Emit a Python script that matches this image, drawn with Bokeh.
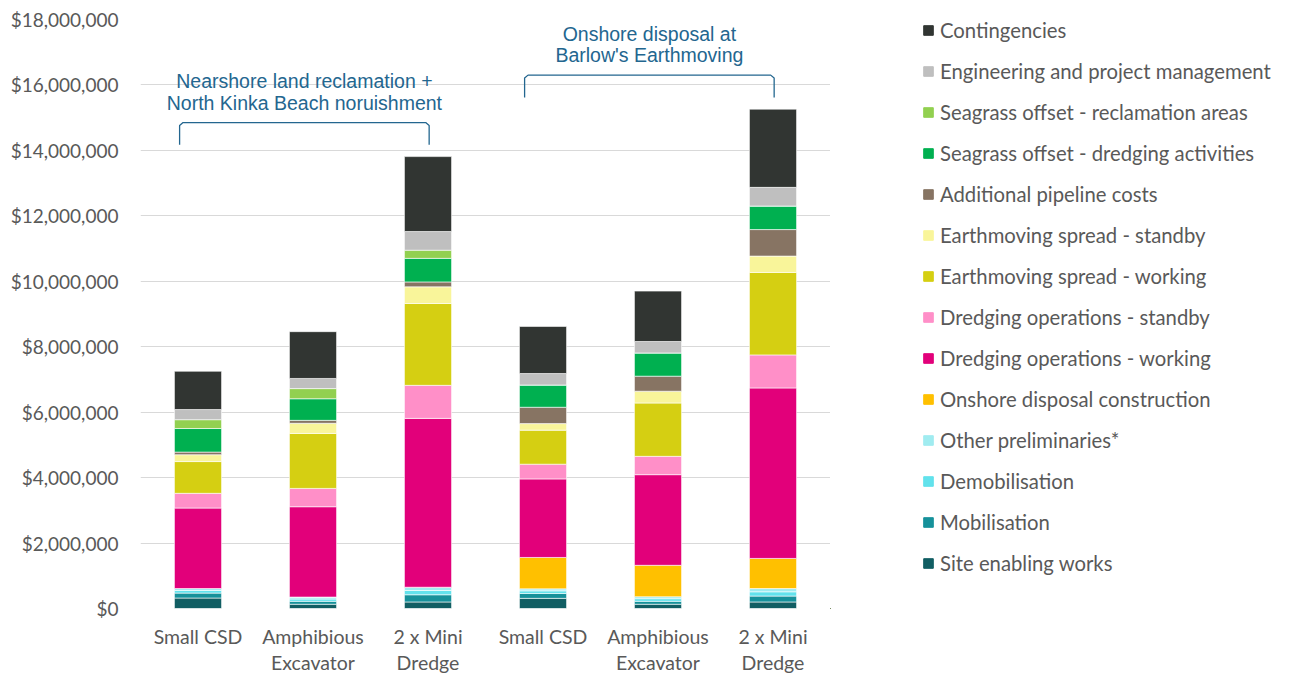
from bokeh.plotting import figure
from bokeh.layouts import row
from bokeh.models import (Range1d, FixedTicker, SingleIntervalTicker, NumeralTickFormatter,
                          Legend, LegendItem, ColumnDataSource)
from bokeh.core.properties import value
from bokeh.embed import file_html
from bokeh.resources import INLINE

# ---------------- data ----------------
categories = ["Small CSD", "Amphibious\nExcavator", "2 x Mini\nDredge",
              "Small CSD", "Amphibious\nExcavator", "2 x Mini\nDredge"]

# series, bottom to top of the stack (values in $)
site_enabling_works = [320000, 130000, 200000, 310000, 130000, 200000]
mobilisation        = [150000, 90000, 220000, 150000, 90000, 180000]
demobilisation      = [80000, 70000, 130000, 80000, 80000, 130000]
other_preliminaries = [60000, 60000, 100000, 60000, 60000, 100000]
onshore_disposal    = [0, 0, 0, 960000, 960000, 920000]
dredging_working    = [2460000, 2760000, 5160000, 2400000, 2770000, 5210000]
dredging_standby    = [450000, 560000, 1010000, 450000, 560000, 1010000]
earthmoving_working = [970000, 1680000, 2500000, 1040000, 1630000, 2520000]
earthmoving_standby = [210000, 310000, 510000, 200000, 360000, 500000]
pipeline_costs      = [80000, 90000, 150000, 500000, 460000, 810000]
seagrass_dredging   = [720000, 660000, 720000, 680000, 710000, 720000]
seagrass_reclaim    = [270000, 310000, 250000, 0, 0, 0]
engineering_pm      = [310000, 310000, 570000, 350000, 350000, 570000]
contingencies       = [1170000, 1430000, 2290000, 1440000, 1540000, 2390000]

series_labels = ["Site enabling works", "Mobilisation", "Demobilisation", "Other preliminaries*",
                 "Onshore disposal construction", "Dredging operations - working",
                 "Dredging operations - standby", "Earthmoving spread - working",
                 "Earthmoving spread - standby", "Additional pipeline costs",
                 "Seagrass offset - dredging activities", "Seagrass offset - reclamation areas",
                 "Engineering and project management", "Contingencies"]
series_values = [site_enabling_works, mobilisation, demobilisation, other_preliminaries,
                 onshore_disposal, dredging_working, dredging_standby, earthmoving_working,
                 earthmoving_standby, pipeline_costs, seagrass_dredging, seagrass_reclaim,
                 engineering_pm, contingencies]
series_colors = ["#115e63", "#16919a", "#62e2ec", "#a0ecf0", "#ffc000", "#e2007a",
                 "#ff8fc8", "#d5cf12", "#f9f59a", "#877463", "#00b050", "#92d050",
                 "#bfbfbf", "#313532"]

group_titles = [["Nearshore land reclamation +", "North Kinka Beach noruishment"],
                ["Onshore disposal at", "Barlow's Earthmoving"]]
group_members = [[0, 1, 2], [3, 4, 5]]

y_max = 18000000
y_step = 2000000

# ---------------- figure ----------------
FONT = "Lato"
GRAY = "#595959"
BLUE = "#23668f"

xs = [i + 1 for i in range(len(categories))]
keys = ["s%d" % i for i in range(len(series_values))]
data = dict(x=xs)
for k, v in zip(keys, series_values):
    data[k] = v
source = ColumnDataSource(data)

p = figure(width=830, height=677, output_backend="svg", toolbar_location=None,
           x_range=Range1d(0.5, len(categories) + 0.5), y_range=Range1d(0, y_max),
           min_border_left=140, min_border_right=0, min_border_top=19, min_border_bottom=67,
           outline_line_color=None, background_fill_color="white", border_fill_color="white")

renderers = p.vbar_stack(keys, x="x", width=0.41, color=series_colors, source=source,
                         line_color="white", line_width=0.6)

# axes
p.xaxis.ticker = FixedTicker(ticks=xs)
p.xaxis.major_label_overrides = {x: c for x, c in zip(xs, categories)}
p.yaxis.ticker = SingleIntervalTicker(interval=y_step, num_minor_ticks=0)
p.yaxis.formatter = NumeralTickFormatter(format="$0,0")
for ax in (p.xaxis[0], p.yaxis[0]):
    ax.axis_line_color = None
    ax.major_tick_line_color = None
    ax.minor_tick_line_color = None
    ax.major_label_text_font = FONT
    ax.major_label_text_font_size = "19px"
    ax.major_label_text_color = GRAY
p.xaxis.major_label_text_font_size = "19.5px"
p.yaxis.major_label_standoff = 16
p.xaxis.major_label_standoff = 10
p.xaxis.major_label_text_line_height = 1.16
p.xgrid.grid_line_color = None
p.ygrid.grid_line_color = "#d9d9d9"
p.ygrid.grid_line_width = 1

# group brackets and titles
totals = [sum(s[i] for s in series_values) for i in range(len(categories))]
rx, ry = 0.03, 90000
for members, title in zip(group_members, group_titles):
    xl = xs[members[0]] - 0.16
    xr = xs[members[-1]] + 0.01
    top = max(totals[m] for m in members)
    yh = top + 1040000
    yb = yh - 680000
    p.line([xl, xl, xl + rx, xr - rx, xr, xr], [yb, yh - ry, yh, yh, yh - ry, yb],
           line_color=BLUE, line_width=1.3)
    xc = (xl + xr) / 2
    p.text(x=[xc, xc], y=[yh + 1270000, yh + 600000], text=title,
           text_align="center", text_baseline="middle", text_color=BLUE,
           text_font=value("Liberation Sans"), text_font_size="19.5px")

# ---------------- legend panel ----------------
lg = figure(width=459, height=677, output_backend="svg", toolbar_location=None,
            x_range=Range1d(0, 1), y_range=Range1d(0, 1),
            min_border_left=0, min_border_right=0, min_border_top=0, min_border_bottom=0,
            outline_line_color=None, background_fill_color="white", border_fill_color="white")
lg.axis.visible = False
lg.grid.visible = False
# swatch renderers placed outside the visible range: they only feed the legend
swatches = [lg.vbar(x=[-10], top=[-10], width=1, color=c) for c in series_colors]
items = [LegendItem(label=lab, renderers=[r]) for lab, r in zip(series_labels, swatches)][::-1]
legend = Legend(items=items, location=(92, 31), border_line_alpha=0, background_fill_alpha=0,
                padding=0, margin=0, spacing=13, label_height=28, glyph_height=12, glyph_width=12,
                label_standoff=6, label_text_font=FONT, label_text_font_size="20.3px",
                label_text_color=GRAY)
lg.add_layout(legend)

layout = row(p, lg, spacing=0)
open("out.html", "w").write(file_html(layout, INLINE))
